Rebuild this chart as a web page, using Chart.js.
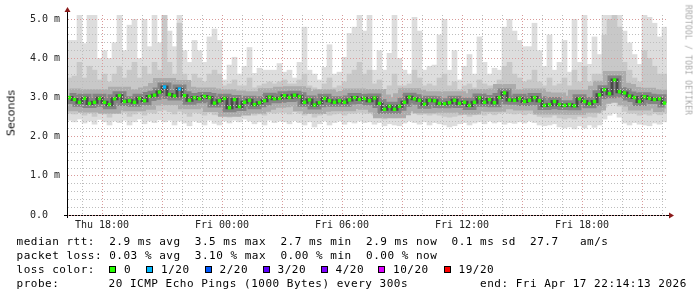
<!DOCTYPE html>
<html>
<head>
<meta charset="utf-8">
<script src="https://cdn.jsdelivr.net/npm/chart.js@4.4.1/dist/chart.umd.min.js"></script>
<style>
  html, body { margin: 0; padding: 0; background: #fff; }
  #wrap { position: relative; width: 697px; height: 297px; overflow: hidden; }
  #chart { position: absolute; left: 0; top: 0; }
  .txt { position: absolute; font-family: 'DejaVu Sans Mono', monospace; font-size: 11px; line-height: 14px;
         letter-spacing: 0.51px; white-space: pre; color: #000; }
  .box { position: absolute; width: 7px; height: 7px; box-sizing: border-box; border: 1px solid #000; }
  #ylabel { position: absolute; left: 11px; top: 113px; transform: translate(-50%, -50%) rotate(-90deg);
            font: normal 11px 'DejaVu Sans', sans-serif; color: #111; white-space: nowrap; }
  #credit { position: absolute; left: 688px; top: 60px; transform: translate(-50%, -50%) rotate(90deg);
            font: 8px 'DejaVu Sans Mono', monospace; letter-spacing: 0.2px; color: #aaa; white-space: nowrap; }
</style>
</head>
<body>
<div id="wrap">
  <canvas id="chart" width="697" height="297"></canvas>
  <div id="ylabel">Seconds</div>
  <div id="credit">RRDTOOL / TOBI OETIKER</div>
  <div class="txt" style="left:16.5px; top:235px">median rtt:  2.9 ms avg  3.5 ms max  2.7 ms min  2.9 ms now  0.1 ms sd  27.7   am/s</div>
  <div class="txt" style="left:16.5px; top:249px">packet loss: 0.03 % avg  3.10 % max  0.00 % min  0.00 % now</div>
  <div class="txt" style="left:16.5px; top:263px">loss color:</div>
  <div id="losslegend"></div>
  <div class="txt" style="left:16.5px; top:277px">probe:</div>
  <div class="txt" style="left:108.5px; top:277px">20 ICMP Echo Pings (1000 Bytes) every 300s</div>
  <div class="txt" style="left:480px; top:277px">end: Fri Apr 17 22:14:13 2026</div>
</div>
<script>
// time window in hours counted from Thu 00:00
const startHour = 16.25;
const endHour = 46.25;
const stepHours = 0.25;

// median rtt (ms), one value per 15 min
const median = [
  3.00, 2.95, 2.88, 2.98, 2.85, 2.88, 2.98, 2.88, 2.82, 2.97,
  3.05, 2.90, 2.92, 2.88, 2.98, 2.92, 3.03, 3.06, 3.14, 3.27,
  3.08, 3.04, 3.22, 3.05, 2.93, 3.00, 2.97, 3.03, 3.00, 2.86,
  2.92, 2.98, 2.74, 2.95, 2.77, 2.88, 2.93, 2.82, 2.87, 2.92,
  3.01, 2.97, 2.98, 3.05, 3.00, 3.06, 3.02, 2.88, 2.94, 2.81,
  2.87, 2.98, 2.92, 2.88, 2.92, 2.88, 2.94, 3.00, 2.95, 2.98,
  2.92, 2.99, 2.85, 2.70, 2.78, 2.70, 2.78, 2.88, 3.01, 2.97,
  2.93, 2.83, 2.93, 2.92, 2.85, 2.84, 2.87, 2.93, 2.85, 2.88,
  2.80, 2.88, 2.99, 2.88, 2.95, 2.87, 3.00, 3.12, 2.94, 2.93,
  2.98, 2.90, 2.93, 3.00, 2.92, 2.80, 2.82, 2.90, 2.82, 2.80,
  2.82, 2.79, 2.97, 2.90, 2.84, 2.90, 3.07, 3.20, 3.10, 3.45,
  3.15, 3.12, 3.04, 3.00, 2.90, 3.02, 2.98, 2.95, 2.97, 2.86
];

// lost pings per sample (index into lossColors)
const lossCount = [
  0, 0, 0, 0, 0, 0, 0, 0, 0, 0,
  0, 0, 0, 0, 0, 0, 0, 0, 0, 1,
  0, 0, 1, 0, 0, 0, 0, 0, 0, 0,
  0, 0, 0, 0, 0, 0, 0, 0, 0, 0,
  0, 0, 0, 0, 0, 0, 0, 0, 0, 0,
  0, 0, 0, 0, 0, 0, 0, 0, 0, 0,
  0, 0, 0, 0, 0, 0, 0, 0, 0, 0,
  0, 0, 0, 0, 0, 0, 0, 0, 0, 0,
  0, 0, 0, 0, 0, 0, 0, 0, 0, 0,
  0, 0, 0, 0, 0, 0, 0, 0, 0, 0,
  0, 0, 0, 0, 0, 0, 0, 0, 0, 0,
  0, 0, 0, 0, 0, 0, 0, 0, 0, 0
];

// smoke: slowest ping
const smokeTop = [
  4.46, 4.46, 5.11, 4.38, 5.11, 5.11, 4.00, 4.20, 4.00, 4.40,
  5.11, 4.20, 4.85, 5.00, 4.00, 5.00, 4.30, 5.11, 4.40, 5.11,
  4.70, 4.30, 5.11, 4.20, 3.90, 4.46, 4.20, 3.90, 4.55, 4.75,
  4.46, 3.45, 3.83, 4.03, 3.60, 3.80, 4.28, 3.62, 3.75, 3.70,
  3.70, 3.70, 3.87, 3.65, 3.70, 3.50, 3.90, 4.80, 3.70, 3.60,
  3.45, 3.77, 4.35, 3.60, 3.65, 4.03, 4.64, 4.80, 5.11, 4.70,
  5.11, 3.70, 4.20, 3.70, 4.13, 5.11, 4.00, 3.70, 3.60, 5.05,
  4.70, 3.70, 3.80, 3.83, 4.60, 5.00, 3.70, 4.20, 3.45, 3.80,
  4.10, 3.60, 4.55, 3.90, 3.60, 3.75, 3.70, 4.80, 5.00, 4.70,
  4.46, 4.30, 4.30, 4.90, 4.20, 3.80, 4.60, 3.70, 3.90, 4.46,
  3.65, 5.00, 3.90, 5.11, 3.85, 4.55, 4.10, 5.11, 5.11, 5.11,
  5.11, 4.70, 4.40, 4.10, 3.85, 5.11, 5.05, 4.90, 4.55, 4.80
];

// smoke: upper edge of the denser middle pings
const smokeUpper = [
  3.50, 3.55, 3.90, 3.50, 3.80, 3.70, 3.45, 3.60, 3.40, 3.60,
  3.80, 3.50, 3.70, 3.90, 3.50, 3.80, 3.60, 3.90, 3.70, 5.11,
  3.90, 3.60, 4.90, 3.60, 3.40, 3.60, 3.50, 3.40, 3.60, 3.70,
  3.60, 3.30, 3.35, 3.45, 3.30, 3.30, 3.50, 3.25, 3.30, 3.35,
  3.40, 3.35, 3.40, 3.45, 3.35, 3.35, 3.45, 3.60, 3.30, 3.25,
  3.20, 3.35, 3.50, 3.25, 3.30, 3.40, 3.60, 3.70, 3.90, 3.60,
  3.70, 3.35, 3.45, 3.20, 3.30, 3.60, 3.30, 3.30, 3.35, 3.70,
  3.50, 3.30, 3.35, 3.30, 3.50, 3.60, 3.30, 3.40, 3.20, 3.30,
  3.35, 3.25, 3.45, 3.35, 3.30, 3.30, 3.45, 3.80, 3.90, 3.60,
  3.50, 3.40, 3.45, 3.70, 3.40, 3.30, 3.50, 3.30, 3.35, 3.50,
  3.30, 3.70, 3.40, 3.80, 3.40, 3.60, 3.60, 4.60, 5.00, 5.11,
  4.80, 3.90, 3.70, 3.50, 3.40, 4.20, 4.00, 3.80, 3.60, 3.60
];

// smoke: lower edge of the denser middle pings
const smokeLower = [
  2.60, 2.58, 2.62, 2.55, 2.60, 2.52, 2.62, 2.58, 2.50, 2.60,
  2.60, 2.62, 2.52, 2.58, 2.63, 2.55, 2.62, 2.60, 2.66, 2.68,
  2.64, 2.58, 2.65, 2.60, 2.52, 2.62, 2.60, 2.55, 2.62, 2.56,
  2.55, 2.62, 2.50, 2.62, 2.52, 2.62, 2.60, 2.55, 2.58, 2.55,
  2.62, 2.60, 2.62, 2.62, 2.58, 2.64, 2.60, 2.55, 2.60, 2.50,
  2.55, 2.62, 2.55, 2.58, 2.60, 2.55, 2.60, 2.60, 2.62, 2.60,
  2.60, 2.55, 2.56, 2.45, 2.52, 2.48, 2.50, 2.58, 2.62, 2.60,
  2.56, 2.58, 2.55, 2.58, 2.55, 2.52, 2.50, 2.52, 2.55, 2.58,
  2.52, 2.56, 2.60, 2.55, 2.60, 2.56, 2.60, 2.62, 2.60, 2.58,
  2.60, 2.56, 2.60, 2.58, 2.52, 2.50, 2.50, 2.55, 2.48, 2.45,
  2.48, 2.45, 2.52, 2.48, 2.52, 2.50, 2.60, 2.75, 2.85, 2.90,
  2.78, 2.65, 2.60, 2.60, 2.55, 2.58, 2.55, 2.60, 2.56, 2.60
];

// smoke: fastest ping
const smokeBottom = [
  2.42, 2.38, 2.45, 2.35, 2.40, 2.32, 2.44, 2.38, 2.30, 2.40,
  2.36, 2.42, 2.30, 2.38, 2.45, 2.33, 2.40, 2.36, 2.43, 2.38,
  2.42, 2.30, 2.40, 2.35, 2.28, 2.40, 2.36, 2.30, 2.42, 2.34,
  2.30, 2.40, 2.35, 2.42, 2.38, 2.45, 2.40, 2.33, 2.38, 2.30,
  2.42, 2.36, 2.40, 2.38, 2.33, 2.41, 2.36, 2.30, 2.38, 2.25,
  2.33, 2.40, 2.30, 2.36, 2.40, 2.32, 2.38, 2.35, 2.40, 2.36,
  2.38, 2.32, 2.36, 2.28, 2.33, 2.30, 2.28, 2.35, 2.40, 2.36,
  2.32, 2.38, 2.30, 2.36, 2.33, 2.30, 2.25, 2.28, 2.33, 2.36,
  2.30, 2.35, 2.38, 2.33, 2.40, 2.35, 2.38, 2.32, 2.36, 2.34,
  2.38, 2.35, 2.40, 2.36, 2.30, 2.28, 2.30, 2.33, 2.25, 2.22,
  2.25, 2.20, 2.28, 2.22, 2.30, 2.24, 2.30, 2.45, 2.55, 2.60,
  2.50, 2.35, 2.30, 2.36, 2.32, 2.30, 2.28, 2.35, 2.32, 2.38
];

const xTickHours = [18, 24, 30, 36, 42];
const xTickLabels = ["Thu 18:00", "Fri 00:00", "Fri 06:00", "Fri 12:00", "Fri 18:00"];
const yTickValues = [0, 1, 2, 3, 4, 5];
const yTickLabels = ["0.0  ", "1.0 m", "2.0 m", "3.0 m", "4.0 m", "5.0 m"];

const lossLabels = ["0", "1/20", "2/20", "3/20", "4/20", "10/20", "19/20"];
const lossColors = ["#26ff00", "#00b8ff", "#0059ff", "#5e00ff", "#7e00ff", "#dd00ff", "#ff0000"];

// loss colour legend
const lossBoxX = [109, 146, 204.5, 262.5, 320.5, 378, 443.5];
const legendEl = document.getElementById("losslegend");
lossLabels.forEach((lab, i) => {
  const b = document.createElement("div");
  b.className = "box";
  b.style.left = lossBoxX[i] + "px";
  b.style.top = "266px";
  b.style.background = lossColors[i];
  legendEl.appendChild(b);
  const t = document.createElement("div");
  t.className = "txt";
  t.style.left = (lossBoxX[i] + 15) + "px";
  t.style.top = "263px";
  t.textContent = lab;
  legendEl.appendChild(t);
});

const times = median.map((v, i) => startHour + (i + 0.5) * stepHours);
const band = (lo, hi) => lo.map((v, i) => ({ x: times[i], y: [v, hi[i]] }));
const pts = median.map((v, i) => ({ x: times[i], y: v }));

const gridHours = [];
for (let h = Math.ceil(startHour); h < endHour; h++) gridHours.push(h);
const yGrid = [];
for (let k = 0; k <= 25; k++) yGrid.push(Math.round(k * 2) / 10);

const majorGrid = "#d99a9a";
const minorGrid = "#bdbdbd";

// axis arrows like rrdtool
const axisArrows = {
  id: "axisArrows",
  afterDraw(chart) {
    const { ctx, chartArea: a } = chart;
    const ax = Math.round(a.left - 0.5) + 0.5;
    const ay = Math.round(a.bottom - 0.5) + 0.5;
    ctx.save();
    ctx.strokeStyle = "#000";
    ctx.lineWidth = 1;
    ctx.beginPath();
    ctx.moveTo(ax, a.top);
    ctx.lineTo(ax, a.top - 4);
    ctx.moveTo(ax, a.bottom);
    ctx.lineTo(ax, a.bottom + 3);
    ctx.moveTo(a.left - 3, ay);
    ctx.lineTo(a.left, ay);
    ctx.moveTo(a.right, ay);
    ctx.lineTo(a.right + 3, ay);
    ctx.stroke();
    ctx.fillStyle = "#8b1a1a";
    ctx.beginPath();
    ctx.moveTo(ax - 3, a.top - 3);
    ctx.lineTo(ax + 3, a.top - 3);
    ctx.lineTo(ax, a.top - 8);
    ctx.closePath();
    ctx.fill();
    ctx.beginPath();
    ctx.moveTo(a.right + 2, ay - 3);
    ctx.lineTo(a.right + 2, ay + 3);
    ctx.lineTo(a.right + 7, ay);
    ctx.closePath();
    ctx.fill();
    ctx.restore();
  }
};

Chart.defaults.font.family = "'DejaVu Sans Mono', monospace";

const ctx = document.getElementById("chart").getContext("2d");
new Chart(ctx, {
  type: "bar",
  data: {
    datasets: [
      {
        label: "smoke outer",
        data: band(smokeBottom, smokeTop),
        backgroundColor: "#dddddd",
        grouped: false,
        barPercentage: 1,
        categoryPercentage: 1,
        order: 6,
      },
      {
        label: "smoke inner",
        data: band(smokeLower, smokeUpper),
        backgroundColor: "#c8c8c8",
        grouped: false,
        barPercentage: 1,
        categoryPercentage: 1,
        order: 5,
      },
      {
        type: "line",
        label: "smoke core 1",
        data: pts,
        borderColor: "#acacac",
        borderWidth: 18,
        stepped: "middle",
        pointRadius: 0,
        order: 4,
      },
      {
        type: "line",
        label: "smoke core 2",
        data: pts,
        borderColor: "#848484",
        borderWidth: 9,
        stepped: "middle",
        pointRadius: 0,
        order: 3,
      },
      {
        type: "line",
        label: "smoke core 3",
        data: pts,
        borderColor: "#4a4a4a",
        borderWidth: 3,
        stepped: "middle",
        pointRadius: 0,
        order: 2,
      },
      {
        type: "line",
        label: "median rtt",
        data: pts,
        showLine: false,
        pointStyle: "rect",
        pointRadius: 2.4,
        pointBorderWidth: 0,
        pointBackgroundColor: (c) => lossColors[lossCount[c.dataIndex] || 0],
        order: 1,
      },
    ],
  },
  options: {
    responsive: false,
    animation: false,
    events: [],
    layout: { padding: { top: 15, right: 30, left: 0, bottom: 0 } },
    plugins: { legend: { display: false }, tooltip: { enabled: false } },
    scales: {
      x: {
        type: "linear",
        min: startHour,
        max: endHour,
        offset: false,
        afterBuildTicks: (s) => { s.ticks = gridHours.map((v) => ({ value: v })); },
        afterFit: (s) => { s.height = 82; },
        ticks: {
          autoSkip: false,
          maxRotation: 0,
          padding: 4,
          color: "#222",
          font: { size: 10 },
          callback: (v) => {
            const k = xTickHours.indexOf(v);
            return k >= 0 ? xTickLabels[k] : "";
          },
        },
        grid: {
          z: 1,
          offset: false,
          drawTicks: false,
          color: (c) => (c.tick && c.tick.value % 3 === 0 ? majorGrid : minorGrid),
        },
        border: { color: "#000", width: 1, dash: [1, 2], z: 1 },
      },
      y: {
        min: 0,
        max: 5.11,
        afterBuildTicks: (s) => { s.ticks = yGrid.map((v) => ({ value: v })); },
        afterFit: (s) => { s.width = 67; },
        ticks: {
          autoSkip: false,
          padding: 7,
          color: "#222",
          font: { size: 10 },
          callback: (v) => {
            const k = yTickValues.indexOf(v);
            return k >= 0 ? yTickLabels[k] : "";
          },
        },
        grid: {
          z: 1,
          drawTicks: false,
          color: (c) => (c.tick && Math.abs(c.tick.value - Math.round(c.tick.value)) < 1e-6 ? majorGrid : minorGrid),
        },
        border: { color: "#000", width: 1, dash: [1, 2], z: 1 },
      },
    },
  },
  plugins: [axisArrows],
});
</script>
</body>
</html>
